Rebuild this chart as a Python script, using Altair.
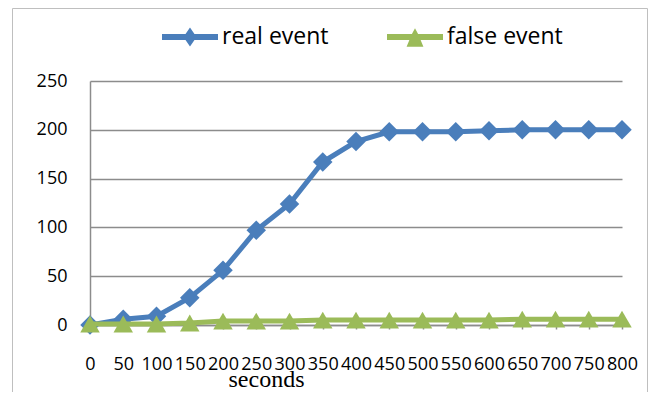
import altair as alt
import pandas as pd

seconds = [0, 50, 100, 150, 200, 250, 300, 350, 400, 450, 500, 550, 600, 650, 700, 750, 800]
real_event = [0, 6, 9, 28, 56, 97, 124, 167, 188, 198, 198, 198, 199, 200, 200, 200, 200]
false_event = [1, 1, 1, 2, 4, 4, 4, 5, 5, 5, 5, 5, 5, 6, 6, 6, 6]
series_names = ["real event", "false event"]
series_colors = ["#4A7EBB", "#9BBB59"]
series_shapes = ["diamond", "triangle-up"]
y_ticks = [0, 50, 100, 150, 200, 250]

rows = []
for s, v in zip(seconds, real_event):
    rows.append({"seconds": s, "value": v, "series": series_names[0]})
for s, v in zip(seconds, false_event):
    rows.append({"seconds": s, "value": v, "series": series_names[1]})
df = pd.DataFrame(rows)

diamond_path = ("M-1,-0.107L-0.16,-0.107L0,-0.34L0.16,-0.107L1,-0.107L1,0.107"
                "L0.16,0.107L0,0.34L-0.16,0.107L-1,0.107Z")
triangle_path = ("M-1,-0.107L-0.11,-0.107L0,-0.31L0.11,-0.107L1,-0.107L1,0.107"
                 "L0.2,0.107L0.3,0.35L-0.3,0.35L-0.2,0.107L-1,0.107Z")

x_enc = alt.X(
    "seconds:Q",
    scale=alt.Scale(domain=[0, 800], nice=False, zero=False),
    axis=alt.Axis(
        values=seconds, title="seconds", grid=False, domainColor="#8C8C8C", domainWidth=1.5,
        tickColor="#8C8C8C", tickSize=4, tickWidth=1.5, labelFont="Open Sans", labelFontSize=18,
        labelColor="#000000", labelPadding=26, labelOverlap=False, labelFlush=False,
        titleFont="Liberation Serif", titleFontSize=24, titleFontWeight="normal",
        titleColor="#000000", titleX=176, titleY=61, titleBaseline="alphabetic",
        titleAlign="center",
    ),
)
y_enc = alt.Y(
    "value:Q",
    scale=alt.Scale(domain=[0, 250], nice=False),
    axis=alt.Axis(
        values=y_ticks, title=None, grid=True, gridColor="#8C8C8C", gridWidth=1.5,
        domainColor="#8C8C8C", domainWidth=1.5, ticks=False, labelFont="Open Sans",
        labelFontSize=18, labelColor="#000000", labelPadding=23,
    ),
)

legend = alt.Legend(
    title=None, orient="none", legendX=72, legendY=-72, direction="horizontal",
    symbolSize=3136, symbolStrokeWidth=0, symbolOpacity=1,
    labelFont="Open Sans", labelFontSize=23, labelColor="#000000",
    labelOffset=4, columnPadding=58,
)

base = alt.Chart(df)

# invisible layer that only feeds the legend (colour + combined line/marker symbol)
legend_src = base.mark_point(filled=True, opacity=0).encode(
    x=x_enc, y=y_enc,
    color=alt.Color("series:N", scale=alt.Scale(domain=series_names, range=series_colors),
                    legend=legend),
    shape=alt.Shape("series:N", scale=alt.Scale(domain=series_names,
                                                range=[diamond_path, triangle_path]),
                    legend=legend),
)

layers = []
for name, col, shp in zip(series_names, series_colors, series_shapes):
    sub = base.transform_filter(alt.datum.series == name)
    layers.append(sub.mark_line(strokeWidth=5, color=col).encode(x=x_enc, y=y_enc))
    layers.append(sub.mark_point(filled=True, opacity=1, size=380, shape=shp, color=col)
                  .encode(x=x_enc, y=y_enc))

border = alt.Chart(alt.Data(values=[{"a": 1}])).mark_rect(
    fillOpacity=0, stroke="#BFBFBF", strokeWidth=1
).encode(
    x=alt.value(-77.5), x2=alt.value(557.5), y=alt.value(-72.5), y2=alt.value(400)
)

chart = alt.layer(border, legend_src, *layers).properties(
    width=532, height=244,
    padding={"left": 82, "top": 73, "right": 27, "bottom": 67},
    autosize=alt.AutoSizeParams(type="none"),
).configure_view(stroke=None).configure_axisX(labelOverlap=False)

chart.save("out.html", embed_options={"renderer": "svg", "actions": False})
